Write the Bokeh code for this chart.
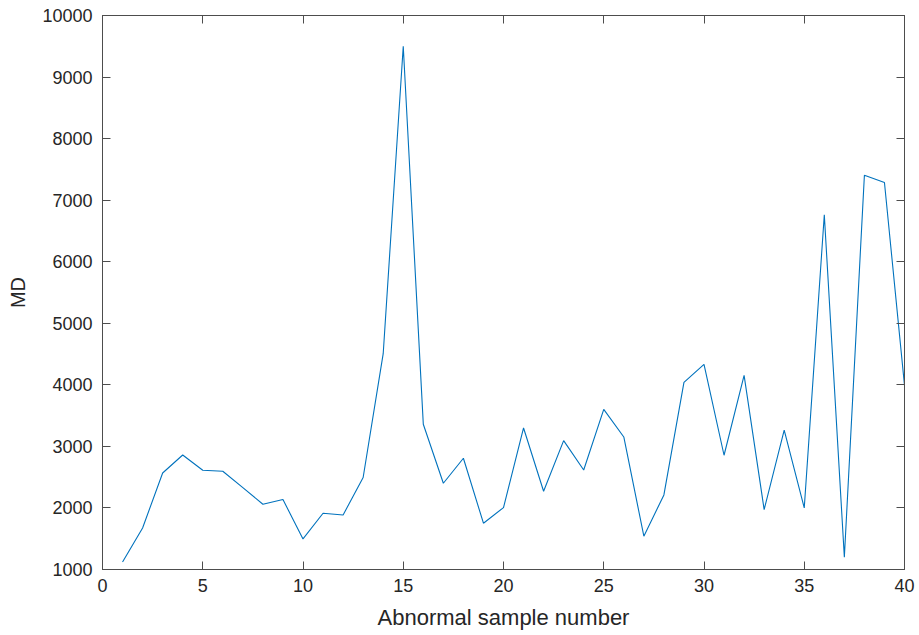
from bokeh.plotting import figure
from bokeh.models import LinearAxis, FixedTicker, CustomJSTickFormatter
from bokeh.embed import file_html
from bokeh.resources import INLINE

sample = list(range(1, 41))
md = [1123, 1675, 2568, 2860, 2612, 2596, 2331, 2060, 2136, 1497,
      1914, 1886, 2494, 4506, 9500, 3359, 2401, 2807, 1752, 2006,
      3299, 2271, 3094, 2617, 3602, 3153, 1541, 2211, 4041, 4333,
      2856, 4154, 1974, 3266, 2000, 6763, 1200, 7406, 7287, 3992]
x_ticks = [0, 5, 10, 15, 20, 25, 30, 35, 40]
y_ticks = [1000, 2000, 3000, 4000, 5000, 6000, 7000, 8000, 9000, 10000]

FONT = "Liberation Sans"
AX = "#4d4d4d"
TXT = "#262626"

p = figure(width=919, height=635, x_range=(0, 40), y_range=(1000, 10000),
           output_backend="svg", toolbar_location=None,
           min_border_left=102, min_border_right=15, min_border_top=15,
           min_border_bottom=66)
p.grid.visible = False
p.outline_line_color = AX
p.outline_line_width = 1
p.background_fill_color = "white"
p.border_fill_color = "white"

p.line(sample, md, line_color="#0072BD", line_width=1.1)

def style(ax, ticks, labels=True):
    ax.ticker = FixedTicker(ticks=ticks)
    ax.major_tick_in = 8
    ax.major_tick_out = 0
    ax.minor_tick_line_color = None
    ax.axis_line_color = AX
    ax.major_tick_line_color = AX
    ax.major_label_text_font = FONT
    ax.major_label_text_color = TXT
    ax.major_label_text_font_size = "18px"
    ax.axis_label_text_font = FONT
    ax.axis_label_text_font_style = "normal"
    ax.axis_label_text_color = TXT
    ax.axis_label_text_font_size = "20px"
    if not labels:
        ax.major_label_text_font_size = "0px"
        ax.formatter = CustomJSTickFormatter(code="return ''")

style(p.xaxis[0], x_ticks)
style(p.yaxis[0], y_ticks)
p.xaxis[0].axis_label = "Abnormal sample number"
p.xaxis[0].axis_label_text_font_size = "22px"
p.yaxis[0].axis_label = "MD"
p.xaxis[0].major_label_standoff = 9
p.xaxis[0].axis_label_standoff = 10
p.yaxis[0].major_label_standoff = 10
p.yaxis[0].axis_label_standoff = 10

top = LinearAxis()
style(top, x_ticks, labels=False)
p.add_layout(top, "above")
right = LinearAxis()
style(right, y_ticks, labels=False)
p.add_layout(right, "right")

open("out.html", "w").write(file_html(p, INLINE))
